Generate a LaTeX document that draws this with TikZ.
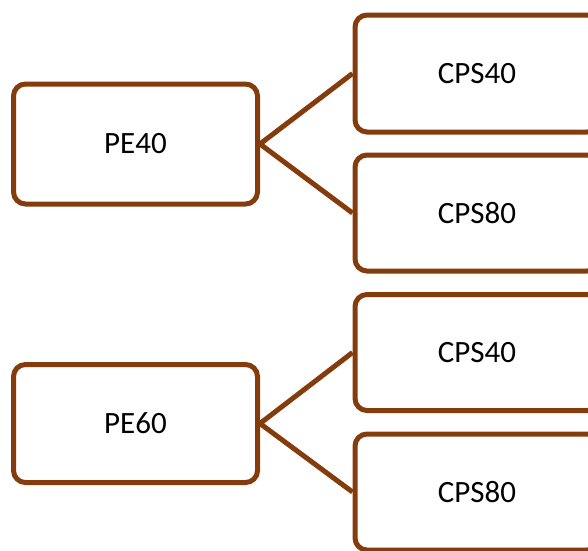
\documentclass[tikz,border=0pt]{standalone}
\usepackage{fontspec}
\setmainfont{Carlito}
\definecolor{rust}{HTML}{843C0C}
\begin{document}
\begin{tikzpicture}[x=1pt, y=-1pt,
    box/.style={draw=rust, line width=5pt, rounded corners=12pt, fill=white,
      minimum width=244pt, inner sep=0pt, font=\fontsize{31}{37}\selectfont},
    link/.style={draw=rust, line width=5pt}]
  \useasboundingbox (0,0) rectangle (588,550);
  % first group
  \node[box, minimum height=120pt] (pe40) at (135.5,144) {PE40};
  \node[box, minimum height=117pt] (cps40a) at (477,73.5) {CPS40};
  \node[box, minimum height=116pt] (cps80a) at (477,213) {CPS80};
  % second group
  \node[box, minimum height=118pt] (pe60) at (135.5,423.5) {PE60};
  \node[box, minimum height=116pt] (cps40b) at (477,352.5) {CPS40};
  \node[box, minimum height=116pt] (cps80b) at (477,492) {CPS80};
  % links
  \draw[link] (pe40.east) -- (cps40a.west);
  \draw[link] (pe40.east) -- (cps80a.west);
  \draw[link] (pe60.east) -- (cps40b.west);
  \draw[link] (pe60.east) -- (cps80b.west);
\end{tikzpicture}
\end{document}
